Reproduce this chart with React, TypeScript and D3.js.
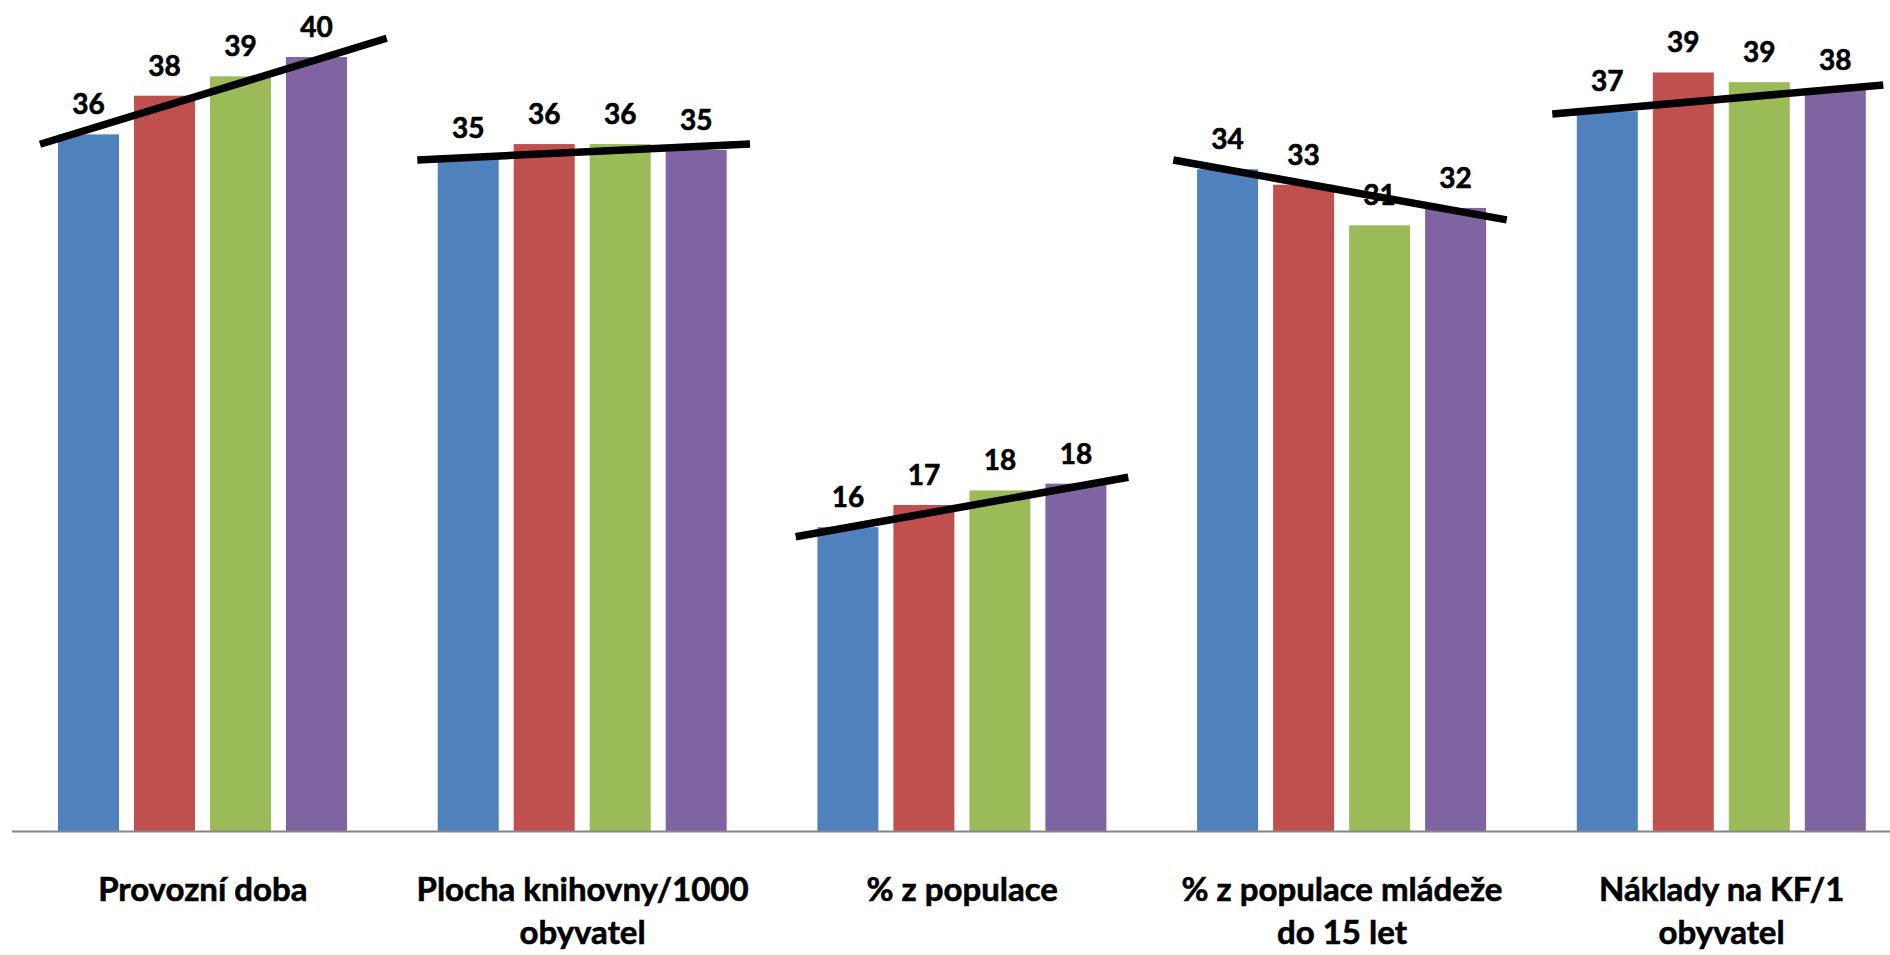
import React from "react";
import * as d3 from "d3";

const categories: string[][] = [
  ["Provozní doba"],
  ["Plocha knihovny/1000", "obyvatel"],
  ["% z populace"],
  ["% z populace mládeže", "do 15 let"],
  ["Náklady na KF/1", "obyvatel"],
];
const seriesNames = ["S1", "S2", "S3", "S4"];
const seriesColors = ["#4F81BD", "#C0504D", "#9BBB59", "#8064A2"];

const series1 = [36.0, 34.8, 15.7, 34.2, 37.2];
const series2 = [38.0, 35.5, 16.85, 33.4, 39.2];
const series3 = [39.0, 35.5, 17.6, 31.3, 38.7];
const series4 = [40.0, 35.2, 17.95, 32.2, 38.3];
const allSeries = [series1, series2, series3, series4];

// hand-drawn trend lines: value at start and end
const trendStart = [35.49, 34.68, 15.21, 34.68, 37.05];
const trendEnd = [40.97, 35.5, 18.28, 31.58, 38.55];

const W = 1890;
const H = 955;

export default function App() {
  const x0 = d3
    .scaleBand<number>()
    .domain(categories.map((_, i) => i))
    .range([13, 13 + 5 * 379.7])
    .paddingInner(0)
    .paddingOuter(0);
  const x1 = d3
    .scaleBand<number>()
    .domain(seriesNames.map((_, i) => i))
    .range([45, 379.7 - 45.7])
    .paddingInner(15 / 76)
    .paddingOuter(0);
  const y = d3.scaleLinear().domain([0, 43]).range([831, 831 - 43 * 19.35]);

  // trend line horizontal extents within the group band (layout)
  const trendX0 = [27, 24.6, 23.3, 21.2, 20.5];
  const trendX1 = [373.7, 357.3, 355.9, 354.6, 351.5];

  const font = "Lato, 'Open Sans', sans-serif";

  return (
    <svg
      width={W}
      height={H}
      style={{ position: "absolute", left: 0, top: 0, background: "#fff" }}
    >
      <rect x={0} y={0} width={W} height={H} fill="#fff" />
      {categories.map((_, gi) => (
        <g key={gi} transform={`translate(${x0(gi)},0)`}>
          {allSeries.map((s, si) => (
            <rect
              key={si}
              x={x1(si)}
              y={y(s[gi])}
              width={x1.bandwidth()}
              height={y(0) - y(s[gi])}
              fill={seriesColors[si]}
            />
          ))}
        </g>
      ))}
      <line x1={12} x2={W} y1={831.5} y2={831.5} stroke="#868686" strokeWidth={2} />
      {categories.map((_, gi) => (
        <g key={"l" + gi} transform={`translate(${x0(gi)},0)`}>
          {allSeries.map((s, si) => (
            <text
              key={si}
              x={(x1(si) as number) + x1.bandwidth() / 2}
              y={y(s[gi]) - 20}
              textAnchor="middle"
              fontFamily={font}
              fontWeight="bold"
              fontSize={28}
              fill="#000"
              stroke="#000"
              strokeWidth={0.6}
            >
              {Math.round(s[gi])}
            </text>
          ))}
        </g>
      ))}
      {categories.map((_, gi) => (
        <line
          key={"t" + gi}
          x1={(x0(gi) as number) + trendX0[gi]}
          x2={(x0(gi) as number) + trendX1[gi]}
          y1={y(trendStart[gi])}
          y2={y(trendEnd[gi])}
          stroke="#000"
          strokeWidth={7.5}
        />
      ))}
      {categories.map((lines, gi) => (
        <text
          key={"c" + gi}
          x={(x0(gi) as number) + x0.bandwidth() / 2}
          y={901}
          textAnchor="middle"
          fontFamily={font}
          fontWeight="bold"
          fontSize={33}
          fill="#000"
          stroke="#000"
          strokeWidth={0.6}
        >
          {lines.map((ln, li) => (
            <tspan key={li} x={(x0(gi) as number) + x0.bandwidth() / 2} y={901 + li * 43}>
              {ln}
            </tspan>
          ))}
        </text>
      ))}
    </svg>
  );
}
